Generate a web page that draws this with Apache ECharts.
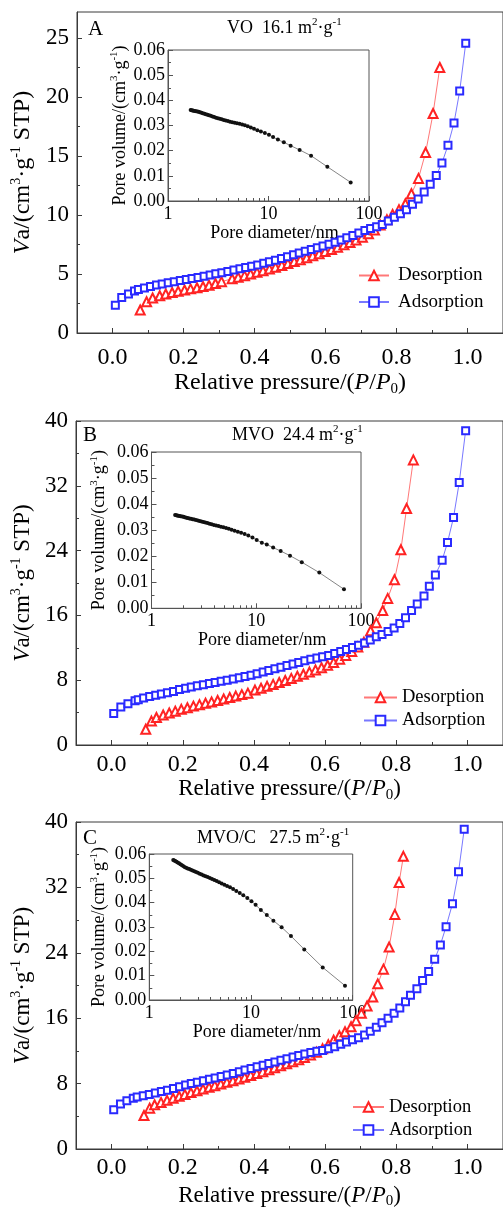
<!DOCTYPE html>
<html><head><meta charset="utf-8">
<script src="https://cdn.jsdelivr.net/npm/echarts@6/dist/echarts.min.js"></script>
<style>html,body{margin:0;padding:0;background:#fff}#c{width:503px;height:1210px}</style>
</head><body><div id="c"></div>
<script>
// ---------- DATA ----------
const aDesorption = [[0.078,1.95],[0.096,2.65],[0.113,2.97],[0.133,3.16],[0.150,3.3],[0.168,3.43],[0.185,3.54],[0.203,3.64],[0.220,3.74],[0.238,3.84],[0.255,3.94],[0.272,4.05],[0.290,4.2],[0.307,4.35],[0.337,4.6],[0.354,4.72],[0.372,4.86],[0.389,5.0],[0.407,5.14],[0.424,5.28],[0.442,5.42],[0.459,5.57],[0.477,5.73],[0.494,5.89],[0.512,6.05],[0.529,6.21],[0.547,6.38],[0.564,6.55],[0.582,6.72],[0.599,6.9],[0.617,7.08],[0.634,7.27],[0.652,7.47],[0.669,7.67],[0.686,7.88],[0.704,8.12],[0.721,8.4],[0.738,8.73],[0.754,9.15],[0.773,9.6],[0.789,10.05],[0.807,10.45],[0.825,10.95],[0.842,11.8],[0.862,13.1],[0.882,15.3],[0.903,18.6],[0.922,22.5]];
const aAdsorption = [[0.008,2.35],[0.026,3.0],[0.045,3.3],[0.062,3.55],[0.073,3.68],[0.090,3.82],[0.107,3.95],[0.124,4.06],[0.140,4.16],[0.157,4.26],[0.174,4.35],[0.191,4.44],[0.208,4.53],[0.224,4.62],[0.241,4.71],[0.258,4.81],[0.275,4.91],[0.291,5.01],[0.308,5.11],[0.325,5.22],[0.342,5.33],[0.359,5.44],[0.375,5.55],[0.392,5.66],[0.409,5.77],[0.426,5.9],[0.442,6.03],[0.459,6.17],[0.476,6.32],[0.493,6.47],[0.510,6.62],[0.526,6.77],[0.543,6.92],[0.560,7.07],[0.577,7.22],[0.593,7.37],[0.610,7.53],[0.627,7.7],[0.644,7.88],[0.660,8.07],[0.677,8.27],[0.694,8.48],[0.711,8.68],[0.727,8.85],[0.744,9.0],[0.760,9.2],[0.777,9.5],[0.794,9.8],[0.811,10.1],[0.828,10.45],[0.845,10.9],[0.861,11.35],[0.878,11.95],[0.895,12.6],[0.912,13.35],[0.928,14.4],[0.945,15.9],[0.962,17.8],[0.978,20.5],[0.995,24.55]];

const bDesorption = [[0.096,1.95],[0.112,2.95],[0.126,3.4],[0.145,3.7],[0.162,3.95],[0.179,4.18],[0.196,4.4],[0.213,4.6],[0.230,4.8],[0.247,4.98],[0.264,5.15],[0.281,5.32],[0.298,5.5],[0.315,5.68],[0.332,5.86],[0.349,6.04],[0.366,6.22],[0.383,6.4],[0.403,6.78],[0.420,7.0],[0.437,7.24],[0.454,7.48],[0.471,7.72],[0.488,7.97],[0.505,8.22],[0.522,8.48],[0.539,8.74],[0.556,9.0],[0.573,9.27],[0.590,9.55],[0.607,9.85],[0.624,10.2],[0.641,10.6],[0.658,11.05],[0.675,11.55],[0.692,12.1],[0.709,12.7],[0.728,14.1],[0.744,15.1],[0.762,16.6],[0.776,18.1],[0.795,20.4],[0.813,24.1],[0.829,29.2],[0.848,35.2]];
const bAdsorption = [[0.006,3.9],[0.026,4.7],[0.046,5.1],[0.066,5.45],[0.075,5.6],[0.090,5.8],[0.107,6.0],[0.124,6.15],[0.140,6.3],[0.157,6.45],[0.174,6.6],[0.191,6.85],[0.208,7.02],[0.224,7.15],[0.241,7.3],[0.258,7.45],[0.275,7.6],[0.291,7.73],[0.308,7.87],[0.325,8.0],[0.342,8.15],[0.359,8.3],[0.375,8.45],[0.392,8.62],[0.409,8.8],[0.426,9.0],[0.442,9.2],[0.459,9.4],[0.476,9.6],[0.493,9.8],[0.510,10.0],[0.526,10.2],[0.543,10.4],[0.560,10.6],[0.577,10.75],[0.593,10.9],[0.610,11.05],[0.627,11.3],[0.644,11.55],[0.660,11.8],[0.677,12.05],[0.694,12.3],[0.711,12.6],[0.727,12.95],[0.744,13.35],[0.760,13.65],[0.777,14.0],[0.794,14.45],[0.810,15.0],[0.826,15.7],[0.843,16.6],[0.859,17.4],[0.878,18.4],[0.893,19.6],[0.910,21.0],[0.929,22.8],[0.944,25.0],[0.961,28.1],[0.977,32.4],[0.995,38.8]];

const cDesorption = [[0.091,4.1],[0.107,5.0],[0.121,5.4],[0.139,5.7],[0.156,5.95],[0.173,6.2],[0.190,6.45],[0.206,6.68],[0.223,6.9],[0.240,7.12],[0.257,7.33],[0.274,7.54],[0.290,7.75],[0.307,7.95],[0.324,8.15],[0.341,8.35],[0.358,8.55],[0.374,8.77],[0.391,9.0],[0.408,9.23],[0.425,9.46],[0.442,9.7],[0.458,9.94],[0.475,10.18],[0.492,10.42],[0.509,10.67],[0.526,10.93],[0.542,11.2],[0.559,11.5],[0.576,11.85],[0.593,12.25],[0.609,12.75],[0.624,13.3],[0.640,13.85],[0.656,14.35],[0.673,14.96],[0.687,15.7],[0.702,16.6],[0.718,17.5],[0.734,18.6],[0.748,20.2],[0.764,22.0],[0.780,24.7],[0.796,28.7],[0.808,32.6],[0.820,35.8]];
const cAdsorption = [[0.006,4.8],[0.025,5.5],[0.043,5.9],[0.061,6.2],[0.072,6.35],[0.089,6.5],[0.106,6.68],[0.123,6.85],[0.140,7.02],[0.157,7.2],[0.174,7.4],[0.191,7.62],[0.208,7.82],[0.224,8.0],[0.241,8.18],[0.258,8.35],[0.275,8.52],[0.291,8.7],[0.308,8.88],[0.325,9.06],[0.342,9.25],[0.359,9.45],[0.375,9.65],[0.392,9.85],[0.409,10.05],[0.426,10.25],[0.442,10.45],[0.459,10.65],[0.476,10.85],[0.493,11.05],[0.510,11.25],[0.526,11.45],[0.543,11.62],[0.560,11.8],[0.577,11.97],[0.593,12.05],[0.610,12.25],[0.627,12.5],[0.644,12.8],[0.660,13.1],[0.677,13.35],[0.694,13.6],[0.711,13.95],[0.727,14.4],[0.744,14.9],[0.760,15.45],[0.777,16.0],[0.794,16.6],[0.810,17.25],[0.826,18.0],[0.840,18.8],[0.858,19.6],[0.874,20.6],[0.891,21.7],[0.908,23.2],[0.924,24.96],[0.940,27.2],[0.958,30.0],[0.975,33.9],[0.991,39.1]];

const insetA = [[1.68,0.0362],[1.72,0.0361],[1.76,0.0360],[1.8,0.0359],[1.85,0.0358],[1.9,0.0357],[1.96,0.0356],[2.02,0.0355],[2.08,0.0353],[2.15,0.0351],[2.22,0.0349],[2.3,0.0347],[2.38,0.0345],[2.47,0.0343],[2.56,0.0341],[2.66,0.0339],[2.77,0.0336],[2.88,0.0334],[3.0,0.0331],[3.13,0.0329],[3.27,0.0327],[3.42,0.0325],[3.58,0.0322],[3.75,0.0320],[3.94,0.0318],[4.14,0.0315],[4.36,0.0313],[4.6,0.0311],[4.86,0.0309],[5.15,0.0307],[5.47,0.0304],[5.82,0.0301],[6.22,0.0297],[6.67,0.0292],[7.17,0.0287],[7.75,0.0281],[8.4,0.0276],[9.2,0.0270],[10.1,0.0263],[11.1,0.0254],[12.4,0.0244],[14.2,0.0233],[16.6,0.0220],[20.4,0.0203],[26.5,0.0180],[38.5,0.0136],[65.7,0.0074]];
const insetB = [[1.68,0.0358],[1.72,0.0357],[1.76,0.0356],[1.8,0.0355],[1.85,0.0354],[1.9,0.0353],[1.96,0.0352],[2.02,0.0351],[2.08,0.0350],[2.15,0.0348],[2.22,0.0347],[2.3,0.0345],[2.38,0.0344],[2.47,0.0342],[2.56,0.0341],[2.66,0.0339],[2.77,0.0337],[2.88,0.0335],[3.0,0.0333],[3.13,0.0331],[3.27,0.0329],[3.42,0.0327],[3.58,0.0325],[3.75,0.0323],[3.94,0.0320],[4.14,0.0318],[4.36,0.0316],[4.6,0.0313],[4.86,0.0311],[5.15,0.0308],[5.47,0.0305],[5.82,0.0302],[6.22,0.0298],[6.67,0.0294],[7.17,0.0290],[7.75,0.0285],[8.4,0.0279],[9.2,0.0272],[10.1,0.0262],[11.3,0.0252],[12.6,0.0245],[14.5,0.0233],[17.1,0.0220],[21.0,0.0202],[27.2,0.0177],[40.0,0.0137],[68.8,0.0073]];
const insetC = [[1.72,0.0575],[1.76,0.0573],[1.8,0.0571],[1.85,0.0568],[1.9,0.0565],[1.96,0.0562],[2.02,0.0558],[2.08,0.0555],[2.15,0.0551],[2.22,0.0547],[2.3,0.0543],[2.38,0.0540],[2.47,0.0538],[2.56,0.0535],[2.66,0.0532],[2.77,0.0529],[2.88,0.0526],[3.0,0.0523],[3.13,0.0519],[3.27,0.0516],[3.42,0.0512],[3.58,0.0509],[3.75,0.0505],[3.94,0.0501],[4.14,0.0497],[4.36,0.0493],[4.6,0.0489],[4.86,0.0484],[5.15,0.0479],[5.47,0.0474],[5.82,0.0469],[6.22,0.0463],[6.67,0.0456],[7.17,0.0448],[7.75,0.0440],[8.4,0.0430],[9.2,0.0419],[10.1,0.0406],[11.1,0.0391],[12.5,0.0370],[14.3,0.0349],[16.6,0.0326],[20.0,0.0299],[24.7,0.0263],[33.4,0.0208],[50.7,0.0134],[84.0,0.0059]];

const xMajorTicks = [0, 0.2, 0.4, 0.6, 0.8, 1.0];
const xMinorTicks = [-0.1, 0.1, 0.3, 0.5, 0.7, 0.9];
const yTicksA = [0, 5, 10, 15, 20, 25];
const yMinorA = [2.5, 7.5, 12.5, 17.5, 22.5];
const yTicksBC = [0, 8, 16, 24, 32, 40];
const yMinorBC = [4, 12, 20, 28, 36];
const insetMinorDiam = [2,3,4,5,6,7,8,9,20,30,40,50,60,70,80,90];
const panelLetters = ['A', 'B', 'C'];
const panelTitles = ['{n|VO  16.1 m}{s|2}{n|·g}{s|-1}', '{n|MVO  24.4 m}{s|2}{n|·g}{s|-1}', '{n|MVO/C   27.5 m}{s|2}{n|·g}{s|-1}'];
const legendNames = ['Desorption', 'Adsorption'];

// ---------- LAYOUT ----------
const FONT = '"Liberation Serif", "Times New Roman", serif';
const AX = '#3a3a3a';
const RED = '#ff2323', RED_L = '#ff7878', BLUE = '#2a2aff', BLUE_L = '#7878ff';

function rich(size, sup) {
  const base = {fontFamily: FONT, color: '#000', fontWeight: 'normal'};
  return {
    n: Object.assign({fontSize: size, lineHeight: size + 4}, base),
    i: Object.assign({fontSize: size, fontStyle: 'italic', lineHeight: size + 4}, base),
    s: Object.assign({fontSize: sup, verticalAlign: 'top', lineHeight: sup}, base),
    b: Object.assign({fontSize: sup, verticalAlign: 'bottom', lineHeight: sup}, base)
  };
}

const panels = [
  {grid: {left: 77, top: 12, width: 434, height: 321}, yMax: 27.2, yTicks: yTicksA, yMinor: yMinorA,
   des: aDesorption, ads: aAdsorption, xLM: 13, xNG: 34, yNG: 38, nameFont: 24,
   inset: {left: 168, top: 50, width: 201, height: 151}, ins: insetA, iYNG: 37, iXNG: 19,
   legend: {left: 358, top: 266, itemGap: 7.5, itemWidth: 30, font: 19, pad: 4},
   letter: [88, 30], title: [227, 28]},
  {grid: {left: 76, top: 421, width: 433, height: 324}, yMax: 40, yTicks: yTicksBC, yMinor: yMinorBC,
   des: bDesorption, ads: bAdsorption, xLM: 8, xNG: 29, yNG: 40, nameFont: 23,
   inset: {left: 151.5, top: 452, width: 209.5, height: 156.3}, ins: insetB, iYNG: 41, iXNG: 18,
   legend: {left: 363, top: 688, itemGap: 4, itemWidth: 33, font: 18.5, pad: 0},
   letter: [83, 436], title: [232, 435]},
  {grid: {left: 76, top: 822, width: 436, height: 329}, yMax: 40, yTicks: yTicksBC, yMinor: yMinorBC,
   des: cDesorption, ads: cAdsorption, xLM: 7, xNG: 33, yNG: 39, nameFont: 23,
   inset: {left: 149.3, top: 854, width: 203.4, height: 146}, ins: insetC, iYNG: 39, iXNG: 18,
   legend: {left: 352, top: 1097.5, itemGap: 4, itemWidth: 31, font: 18.5, pad: 0},
   letter: [83, 839], title: [197, 838]}
];

const option = {animation: false, backgroundColor: '#fff', grid: [], xAxis: [], yAxis: [], series: [], legend: [], title: []};

panels.forEach((p, k) => {
  const gM = option.grid.length;
  option.grid.push(Object.assign({show: true, borderColor: AX, borderWidth: 1}, p.grid));
  const gI = option.grid.length;
  option.grid.push(Object.assign({show: true, borderColor: '#555', borderWidth: 1, backgroundColor: '#fff'}, p.inset));

  // main x axes
  const xM = option.xAxis.length;
  option.xAxis.push({gridIndex: gM, type: 'value', min: -0.1, max: 1.1, position: 'bottom',
    axisLine: {show: true, onZero: false, lineStyle: {color: AX}},
    axisTick: {show: true, inside: true, length: 5, customValues: xMajorTicks, lineStyle: {color: AX}},
    axisLabel: {customValues: xMajorTicks, formatter: v => v.toFixed(1), fontSize: 24, fontFamily: FONT, color: '#000', margin: p.xLM},
    splitLine: {show: false},
    name: '{n|Relative pressure/(}{i|P}{n|/}{i|P}{b|0}{n|)}', nameLocation: 'middle', nameGap: p.xNG,
    nameTextStyle: {rich: rich(p.nameFont, 15)}});
  option.xAxis.push({gridIndex: gM, type: 'value', min: -0.1, max: 1.1, position: 'bottom',
    axisLine: {show: false, onZero: false}, axisLabel: {show: false}, splitLine: {show: false},
    axisTick: {show: true, inside: true, length: 3, customValues: xMinorTicks, lineStyle: {color: AX}}});
  // main y axes
  const yM = option.yAxis.length;
  option.yAxis.push({gridIndex: gM, type: 'value', min: 0, max: p.yMax, position: 'left',
    axisLine: {show: true, onZero: false, lineStyle: {color: AX}},
    axisTick: {show: true, inside: true, length: 5, customValues: p.yTicks, lineStyle: {color: AX}},
    axisLabel: {customValues: p.yTicks, fontSize: 23, fontFamily: FONT, color: '#000', margin: 8},
    splitLine: {show: false},
    name: '{i|V}{n|a/(cm}{s|3}{n|·g}{s|-1}{n| STP)}', nameLocation: 'middle', nameRotate: 90, nameGap: p.yNG,
    nameTextStyle: {rich: rich(p.nameFont, 14)}});
  option.yAxis.push({gridIndex: gM, type: 'value', min: 0, max: p.yMax, position: 'left',
    axisLine: {show: false, onZero: false}, axisLabel: {show: false}, splitLine: {show: false},
    axisTick: {show: true, inside: true, length: 3, customValues: p.yMinor, lineStyle: {color: AX}}});

  // inset axes
  const xI = option.xAxis.length;
  option.xAxis.push({gridIndex: gI, type: 'log', logBase: 10, min: 1, max: 100, position: 'bottom',
    axisLine: {show: true, onZero: false, lineStyle: {color: '#555'}},
    axisTick: {show: true, inside: true, length: 5, lineStyle: {color: '#555'}},
    axisLabel: {fontSize: 18, fontFamily: FONT, color: '#000', margin: 4},
    splitLine: {show: false}, minorSplitLine: {show: false},
    name: 'Pore diameter/nm', nameLocation: 'middle', nameGap: p.iXNG,
    nameTextStyle: {fontSize: 18, fontFamily: FONT, color: '#000', padding: [0, 0, 0, 12]}});
  option.xAxis.push({gridIndex: gI, type: 'value', min: 0, max: 2, position: 'bottom',
    axisLine: {show: false, onZero: false}, axisLabel: {show: false}, splitLine: {show: false},
    axisTick: {show: true, inside: true, length: 3, customValues: insetMinorDiam.map(Math.log10), lineStyle: {color: '#555'}}});
  const yI = option.yAxis.length;
  option.yAxis.push({gridIndex: gI, type: 'value', min: 0, max: 0.06, interval: 0.01, position: 'left',
    axisLine: {show: true, onZero: false, lineStyle: {color: '#555'}},
    axisTick: {show: true, inside: true, length: 5, lineStyle: {color: '#555'}},
    minorTick: {show: true, splitNumber: 2, length: 3, lineStyle: {color: '#555'}},
    axisLabel: {formatter: v => v.toFixed(2), fontSize: 18, fontFamily: FONT, color: '#000', margin: 3},
    splitLine: {show: false},
    name: '{n|Pore volume/(cm}{s|3}{n|·g}{s|-1}{n|)}', nameLocation: 'middle', nameRotate: 90, nameGap: p.iYNG,
    nameTextStyle: {rich: rich(18, 11)}});

  // series
  option.series.push({type: 'line', name: legendNames[0], xAxisIndex: xM, yAxisIndex: yM, data: p.des,
    symbol: 'emptyTriangle', symbolSize: 9, itemStyle: {color: RED, borderWidth: 1},
    lineStyle: {color: RED_L, width: 1}, z: 3});
  option.series.push({type: 'line', name: legendNames[1], xAxisIndex: xM, yAxisIndex: yM, data: p.ads,
    symbol: 'emptyRect', symbolSize: 7, itemStyle: {color: BLUE, borderWidth: 1},
    lineStyle: {color: BLUE_L, width: 1}, z: 3});
  option.series.push({type: 'line', name: 'PSD' + k, xAxisIndex: xI, yAxisIndex: yI, data: p.ins,
    symbol: 'circle', symbolSize: 4, itemStyle: {color: '#111'},
    lineStyle: {color: '#666', width: 0.8}, z: 4});

  option.legend.push({data: legendNames, orient: 'vertical', left: p.legend.left, top: p.legend.top,
    itemWidth: p.legend.itemWidth, itemHeight: 12, itemGap: p.legend.itemGap, padding: 0, selectedMode: false,
    textStyle: {fontSize: p.legend.font, fontFamily: FONT, color: '#000', lineHeight: p.legend.font, padding: [0, 0, 0, p.legend.pad]}});

  option.title.push({text: panelLetters[k], left: p.letter[0], top: p.letter[1] - 11, padding: 0,
    textStyle: {fontSize: 21, fontFamily: FONT, fontWeight: 'normal', color: '#000'}});
  option.title.push({text: panelTitles[k], left: p.title[0], top: p.title[1] - 11, padding: 0,
    textStyle: {fontWeight: 'normal', rich: rich(18, 11)}});
});

const chart = echarts.init(document.getElementById('c'), null, {renderer: 'canvas'});
chart.setOption(option);
</script></body></html>
